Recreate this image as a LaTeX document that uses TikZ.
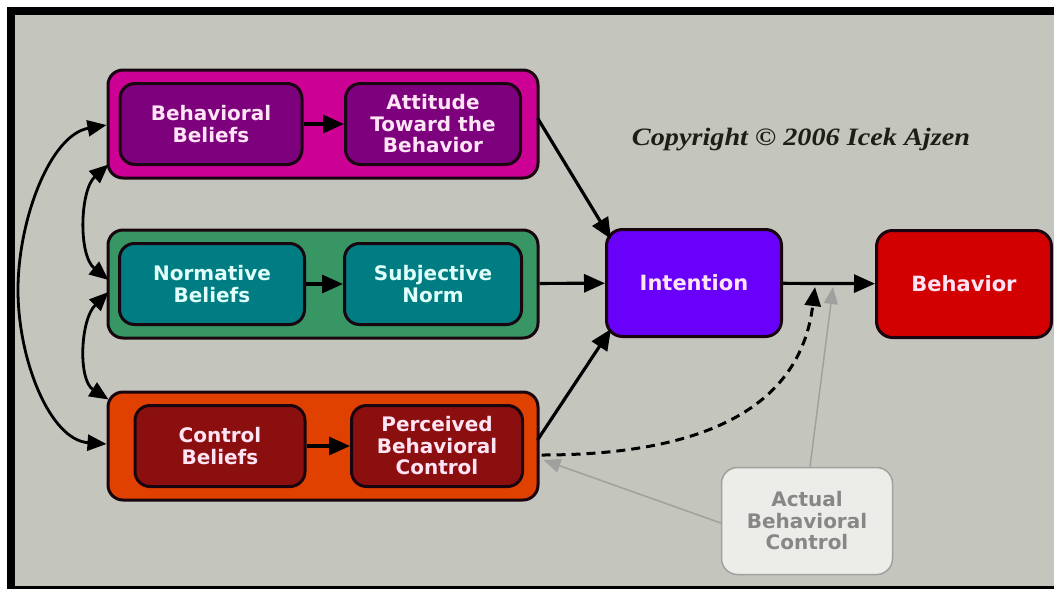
\documentclass[tikz,border=0pt]{standalone}
\usepackage{fontspec}
\setmainfont{DejaVu Sans}
\newfontfamily\copyfont{Liberation Serif}
\usetikzlibrary{arrows.meta,calc}
\definecolor{bgc}{RGB}{196,198,190}
\definecolor{magg}{RGB}{205,0,150}
\definecolor{purp}{RGB}{125,0,125}
\definecolor{greeng}{RGB}{55,150,100}
\definecolor{tealc}{RGB}{0,125,130}
\definecolor{orag}{RGB}{225,65,0}
\definecolor{dred}{RGB}{140,15,15}
\definecolor{intc}{RGB}{105,0,250}
\definecolor{behc}{RGB}{210,0,0}
\definecolor{txtc}{RGB}{255,228,245}
\definecolor{txtt}{RGB}{225,255,250}
\definecolor{abcfill}{RGB}{236,236,232}
\definecolor{abcdraw}{RGB}{160,160,158}
\definecolor{abctext}{RGB}{135,135,135}
\definecolor{edgec}{RGB}{25,5,15}
\definecolor{copyc}{RGB}{30,30,25}
\tikzset{
  grp/.style={draw=edgec, line width=3pt, rounded corners=15pt, minimum width=430pt, minimum height=108pt},
  inbox/.style={draw=edgec, line width=3pt, rounded corners=15pt, minimum height=81pt, text=txtc,
     font=\bfseries\fontsize{20}{21.5}\selectfont, align=center, inner sep=0pt},
  bigbox/.style={draw=edgec, line width=3pt, rounded corners=16pt, minimum width=175pt, minimum height=107pt,
     text=txtc, font=\bfseries\fontsize{21}{23}\selectfont, align=center},
  arr/.style={line width=3.2pt, -{Triangle[length=21pt,width=18pt]}},
  darr/.style={line width=2.8pt, {Triangle[length=19pt,width=16pt]}-{Triangle[length=19pt,width=16pt]}},
  garr/.style={line width=1.5pt, draw=abcdraw, -{Triangle[length=17pt,width=14pt,fill=abcdraw]}},
}
\begin{document}
\begin{tikzpicture}[x=1pt,y=-1pt]
\useasboundingbox (0,0) rectangle (1056,589);
\fill[white] (0,0) rectangle (1056,589);
\fill[black] (7,7) rectangle (1054,589);
\fill[bgc] (15,15) rectangle (1054,586);

% groups
\node[grp, fill=magg] (topg) at (323,124) {};
\node[grp, fill=greeng] (midg) at (323,284) {};
\node[grp, fill=orag] (botg) at (323,446) {};

% inner boxes
\node[inbox, fill=purp, minimum width=182pt] (bb) at (211,124) {Behavioral\\Beliefs};
\node[inbox, fill=purp, minimum width=175pt] (att) at (433,124) {Attitude\\Toward the\\Behavior};
\node[inbox, fill=tealc, minimum width=185pt, text=txtt] (nb) at (212,284) {Normative\\Beliefs};
\node[inbox, fill=tealc, minimum width=177pt, text=txtt] (sn) at (433,284) {Subjective\\Norm};
\node[inbox, fill=dred, minimum width=170pt] (cb) at (220,446) {Control\\Beliefs};
\node[inbox, fill=dred, minimum width=171pt] (pbc) at (437,446) {Perceived\\Behavioral\\Control};

% main boxes
\node[bigbox, fill=intc] (intn) at (694,283) {Intention};
\node[bigbox, fill=behc] (beh) at (964,284) {Behavior};
\node[draw=abcdraw, line width=1.5pt, rounded corners=16pt, fill=abcfill, minimum width=171pt, minimum height=107pt,
  text=abctext, font=\bfseries\fontsize{20}{21.5}\selectfont, align=center] (abc) at (807,521) {Actual\\Behavioral\\Control};

% copyright
\node[font=\copyfont\bfseries\itshape\fontsize{25}{28}\selectfont, text=copyc, xscale=1.13, transform shape] (copy) at (801,140) {Copyright \textcopyright{} 2006 Icek Ajzen};

% inner arrows
\draw[arr] (bb) -- (att);
\draw[arr] (nb) -- (sn);
\draw[arr] (cb) -- (pbc);

% to intention
\draw[arr] ($(topg.east)+(-2,-6)$) -- ($(intn.north west)+(6,11)$);
\draw[arr] (midg) -- (intn);
\draw[arr] ($(botg.east)+(-2,-6)$) -- ($(intn.south west)+(6,-9)$);
\draw[arr] (intn) -- (beh);
\coordinate (hit1) at (815,287);
\coordinate (hit2) at (833,287);

% dashed
\draw[line width=3pt, dash pattern=on 9pt off 6pt, -{Triangle[length=19pt,width=16pt]}]
  ($(botg.east)+(2,9)$) .. controls (700,455) and (800,410) .. (hit1);

% gray arrows
\draw[garr] ($(abc.north)+(3,0)$) -- (hit2);
\draw[garr] ($(abc.west)+(0,2)$) -- ($(botg.east)+(4,14)$);

% left double arrows
\draw[darr] ($(topg.west)+(0,1)$) .. controls (50,135) and (18,220) .. (18,290) .. controls (18,360) and (50,440) .. ($(botg.west)+(0,-2)$);
\draw[darr] ($(topg.south west)+(2,-15)$) .. controls (80,190) and (78,255) .. ($(midg.west)+(2,-4)$);
\draw[darr] ($(midg.west)+(2,8)$) .. controls (80,320) and (78,380) .. ($(botg.north west)+(2,9)$);
\end{tikzpicture}
\end{document}
